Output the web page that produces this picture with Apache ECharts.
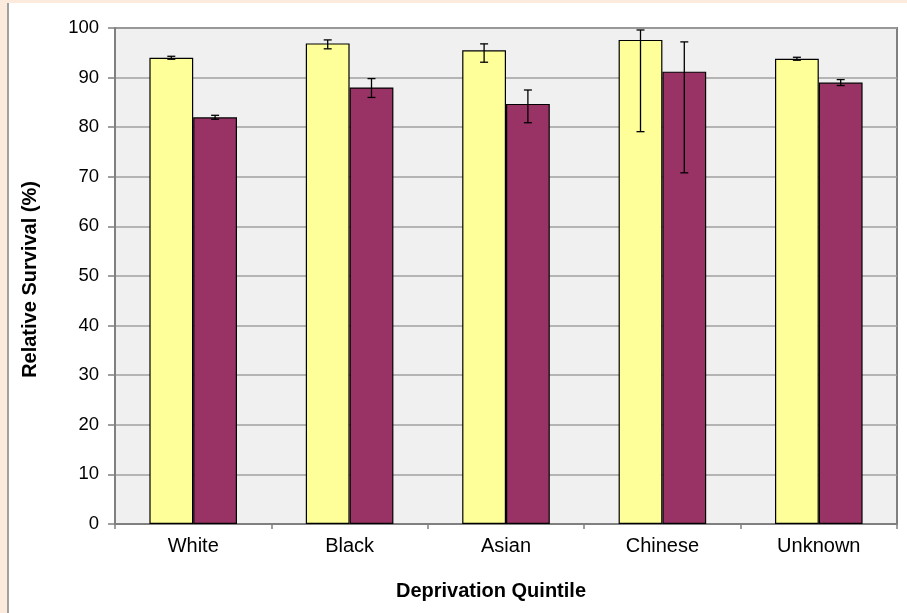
<!DOCTYPE html>
<html><head><meta charset="utf-8">
<script src="https://cdn.jsdelivr.net/npm/echarts@6/dist/echarts.min.js"></script>
<style>
html,body{margin:0;padding:0;width:907px;height:613px;background:#fcebdd;overflow:hidden;}
#paper{position:absolute;left:7px;top:3px;right:0;bottom:0;background:#ffffff;border-left:2px solid #a0a0a0;}
#chart{position:absolute;left:0;top:0;width:907px;height:613px;}
</style></head>
<body>
<div id="paper"></div>
<div id="chart"></div>
<script>
const categories = ['White', 'Black', 'Asian', 'Chinese', 'Unknown'];
const survivalA = [94.0, 96.9, 95.5, 97.6, 93.8];
const survivalB = [82.0, 88.0, 84.7, 91.2, 89.0];
const lowerA = [93.7, 95.8, 93.1, 79.1, 93.5];
const upperA = [94.3, 97.6, 96.8, 99.6, 94.1];
const lowerB = [81.6, 86.0, 80.9, 70.8, 88.4];
const upperB = [82.4, 89.8, 87.5, 97.2, 89.6];
const yTicks = [0, 10, 20, 30, 40, 50, 60, 70, 80, 90, 100];

const BAR_FRAC = 0.28;
function errData(lo, hi) { return categories.map((c, i) => [i, lo[i], hi[i]]); }
function errSeries(lo, hi, side) {
  return {
    type: 'custom',
    data: errData(lo, hi),
    z: 10,
    clip: false,
    renderItem: function (params, api) {
      const idx = api.value(0);
      const band = api.size([1, 0])[0];
      const off = side * band * BAR_FRAC / 2;
      const pLo = api.coord([idx, api.value(1)]);
      const pHi = api.coord([idx, api.value(2)]);
      const x = pLo[0] + off;
      const cap = 4;
      const st = { stroke: '#000', lineWidth: 1.3 };
      return {
        type: 'group',
        children: [
          { type: 'line', shape: { x1: x, y1: pLo[1], x2: x, y2: pHi[1] }, style: st },
          { type: 'line', shape: { x1: x - cap, y1: pLo[1], x2: x + cap, y2: pLo[1] }, style: st },
          { type: 'line', shape: { x1: x - cap, y1: pHi[1], x2: x + cap, y2: pHi[1] }, style: st }
        ]
      };
    }
  };
}

const chart = echarts.init(document.getElementById('chart'));
chart.setOption({
  backgroundColor: 'transparent',
  animation: false,
  textStyle: { fontFamily: 'Liberation Sans, Arial, sans-serif' },
  grid: { left: 115, top: 28, right: 10, bottom: 89, show: true, backgroundColor: '#f0f0f0', borderColor: '#808080', borderWidth: 2 },
  xAxis: {
    type: 'category',
    data: categories,
    name: 'Deprivation Quintile',
    nameLocation: 'middle',
    nameGap: 57,
    nameTextStyle: { fontSize: 20, fontWeight: 'bold', color: '#000', padding: [0, 30, 0, 0] },
    axisLine: { lineStyle: { color: '#808080', width: 2 } },
    axisTick: { show: true, length: 5, interval: 0, lineStyle: { color: '#808080', width: 1.5 } },
    axisLabel: { fontSize: 20, color: '#000', margin: 12, interval: 0 },
    splitLine: { show: false }
  },
  yAxis: {
    type: 'value',
    min: 0, max: 100, interval: 10,
    name: 'Relative Survival (%)',
    nameLocation: 'middle',
    nameGap: 75,
    nameTextStyle: { fontSize: 20, fontWeight: 'bold', color: '#000', padding: [0, 7, 0, 0] },
    axisLine: { show: true, lineStyle: { color: '#808080', width: 2 } },
    axisTick: { show: true, length: 7, lineStyle: { color: '#808080', width: 1.5 } },
    axisLabel: { fontSize: 18.5, color: '#000', margin: 16, formatter: v => yTicks.includes(v) ? String(v) : '' },
    splitLine: { show: true, lineStyle: { color: '#a0a0a0', width: 1.5 } }
  },
  series: [
    { type: 'bar', data: survivalA, barWidth: (BAR_FRAC * 100) + '%', barGap: '0%',
      itemStyle: { color: '#ffff99', borderColor: '#000', borderWidth: 1.2 } },
    { type: 'bar', data: survivalB, barWidth: (BAR_FRAC * 100) + '%', barGap: '0%',
      itemStyle: { color: '#993366', borderColor: '#000', borderWidth: 1.2 } },
    errSeries(lowerA, upperA, -1),
    errSeries(lowerB, upperB, 1)
  ]
});
</script>
</body></html>
